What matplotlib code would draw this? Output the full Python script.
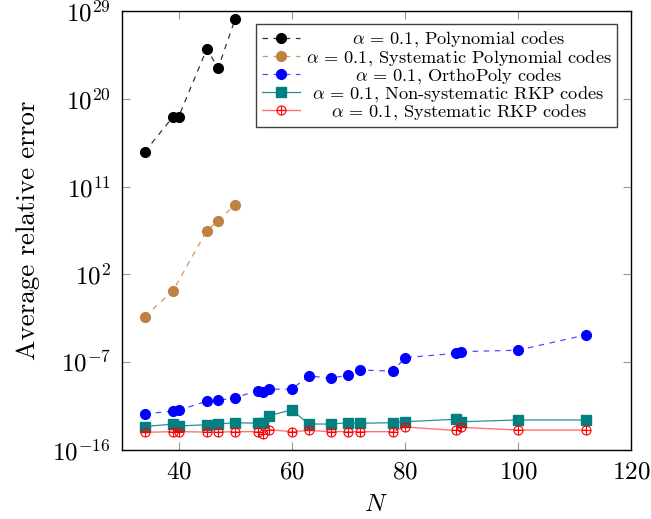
import numpy as np
import matplotlib
matplotlib.use('Agg')
from matplotlib import pyplot as plt
from matplotlib.path import Path
from matplotlib.transforms import Affine2D
from matplotlib.ticker import FixedLocator, LogFormatterMathtext, NullLocator

plt.rcParams['font.family'] = 'serif'
plt.rcParams['font.serif'] = ['cmr10', 'DejaVu Serif']
plt.rcParams['mathtext.fontset'] = 'cm'
plt.rcParams['axes.unicode_minus'] = False
plt.rcParams['axes.formatter.use_mathtext'] = True
plt.rcParams['lines.scale_dashes'] = False

# data
N_poly = [34, 39, 40, 45, 47, 50]
err_poly = [3.5e14, 1.4e18, 1.4e18, 1.3e25, 1.4e23, 1.5e28]

N_sys_poly = [34, 39, 45, 47, 50]
err_sys_poly = [4.8e-3, 2.0, 3.1e6, 3.2e7, 1.4e9]

N_rkp = [34, 39, 40, 45, 47, 50, 54, 55, 56, 60, 63, 67, 70, 72, 78, 80, 89, 90, 100, 112]
err_ortho = [4.9e-13, 1.0e-12, 1.2e-12, 1.0e-11, 1.2e-11, 2.3e-11, 1.2e-10, 8.7e-11, 1.7e-10, 1.7e-10,
             3.8e-9, 2.4e-9, 4.6e-9, 1.6e-8, 1.2e-8, 2.9e-7, 8.1e-7, 1.2e-6, 1.7e-6, 6.2e-5]
err_nonsys_rkp = [2.5e-14, 4.6e-14, 2.9e-14, 3.9e-14, 4.6e-14, 6.3e-14, 5.5e-14, 5.5e-14, 3.3e-13, 1.3e-12,
                  4.6e-14, 4.6e-14, 6.3e-14, 5.5e-14, 6.3e-14, 7.9e-14, 1.4e-13, 7.9e-14, 1.2e-13, 1.2e-13]
err_sys_rkp = [6.5e-15, 7.6e-15, 7.6e-15, 6.9e-15, 6.9e-15, 7.6e-15, 7.6e-15, 4.7e-15, 1.2e-14, 7.6e-15,
               1.0e-14, 7.6e-15, 7.6e-15, 7.6e-15, 7.6e-15, 2.3e-14, 1.0e-14, 2.1e-14, 1.1e-14, 1.1e-14]

labels = [r'$\alpha\,=\,0.1$, Polynomial codes',
          r'$\alpha\,=\,0.1$, Systematic Polynomial codes',
          r'$\alpha\,=\,0.1$, OrthoPoly codes',
          r'$\alpha\,=\,0.1$, Non-systematic RKP codes',
          r'$\alpha\,=\,0.1$, Systematic RKP codes']

# circle with a plus inside (pgfplots "oplus")
oplus = Path.make_compound_path(
    Path.unit_circle(),
    Path([(-1, 0), (1, 0)], [Path.MOVETO, Path.LINETO]),
    Path([(0, -1), (0, 1)], [Path.MOVETO, Path.LINETO]))

brown = (0.75, 0.5, 0.25)
teal = (0.0, 0.5, 0.5)
dash = (0, (4, 4))

fig = plt.figure(figsize=(6.51, 5.19), dpi=100)
ax = fig.add_axes([122/651, 69/519, (631-122)/651, (450-11)/519])

ax.plot(N_poly, err_poly, linestyle=dash, color=(0, 0, 0, 0.8), lw=0.9,
        marker='o', ms=7, mfc='black', mec='black', label=labels[0])
ax.plot(N_sys_poly, err_sys_poly, linestyle=dash, color=brown + (0.8,), lw=0.9,
        marker='o', ms=7, mfc=brown, mec=brown, label=labels[1])
ax.plot(N_rkp, err_ortho, linestyle=dash, color=(0, 0, 1, 0.7), lw=0.9,
        marker='o', ms=7, mfc='blue', mec='blue', label=labels[2])
ax.plot(N_rkp, err_nonsys_rkp, linestyle='-', color=teal + (0.85,), lw=0.9,
        marker='s', ms=6.5, mfc=teal, mec=teal, label=labels[3])
ax.plot(N_rkp, err_sys_rkp, linestyle='-', color=(1, 0, 0, 0.55), lw=1.0,
        marker=oplus, ms=6.5, mfc='none', mec='red', mew=0.8, label=labels[4])

ax.set_yscale('log')
ax.set_xlim(30, 120)
ax.set_ylim(1e-16, 1e29)
ax.set_xticks([40, 60, 80, 100, 120])
ax.yaxis.set_major_locator(FixedLocator([1e-16, 1e-7, 1e2, 1e11, 1e20, 1e29]))
ax.yaxis.set_major_formatter(LogFormatterMathtext())
ax.yaxis.set_minor_locator(NullLocator())

ax.tick_params(which='major', direction='in', top=True, right=True, length=6,
               width=0.8, color='#9a9a9a', labelsize=18, pad=8)
for sp in ax.spines.values():
    sp.set_linewidth(1.0)

ax.set_xlabel('$N$', fontsize=18, labelpad=8)
ax.set_ylabel('Average relative error', fontsize=19.5, labelpad=9)

leg = ax.legend(loc='upper right', bbox_to_anchor=(617/651, (519-24)/519),
                bbox_transform=fig.transFigure, borderaxespad=0, fontsize=13.2,
                fancybox=False, framealpha=1, edgecolor='#404040',
                handlelength=2.1, handletextpad=0.3, labelspacing=-0.1,
                borderpad=0.3)
leg.get_frame().set_linewidth(1.0)

# centre the legend texts like pgfplots does
fig.canvas.draw()
texts = leg.get_texts()
widths = [t.get_window_extent().width for t in texts]
wmax = max(widths)
for t, w in zip(texts, widths):
    t.set_transform(t.get_transform() + Affine2D().translate((wmax - w) / 2, 0))

fig.savefig('out.png', dpi=100)
